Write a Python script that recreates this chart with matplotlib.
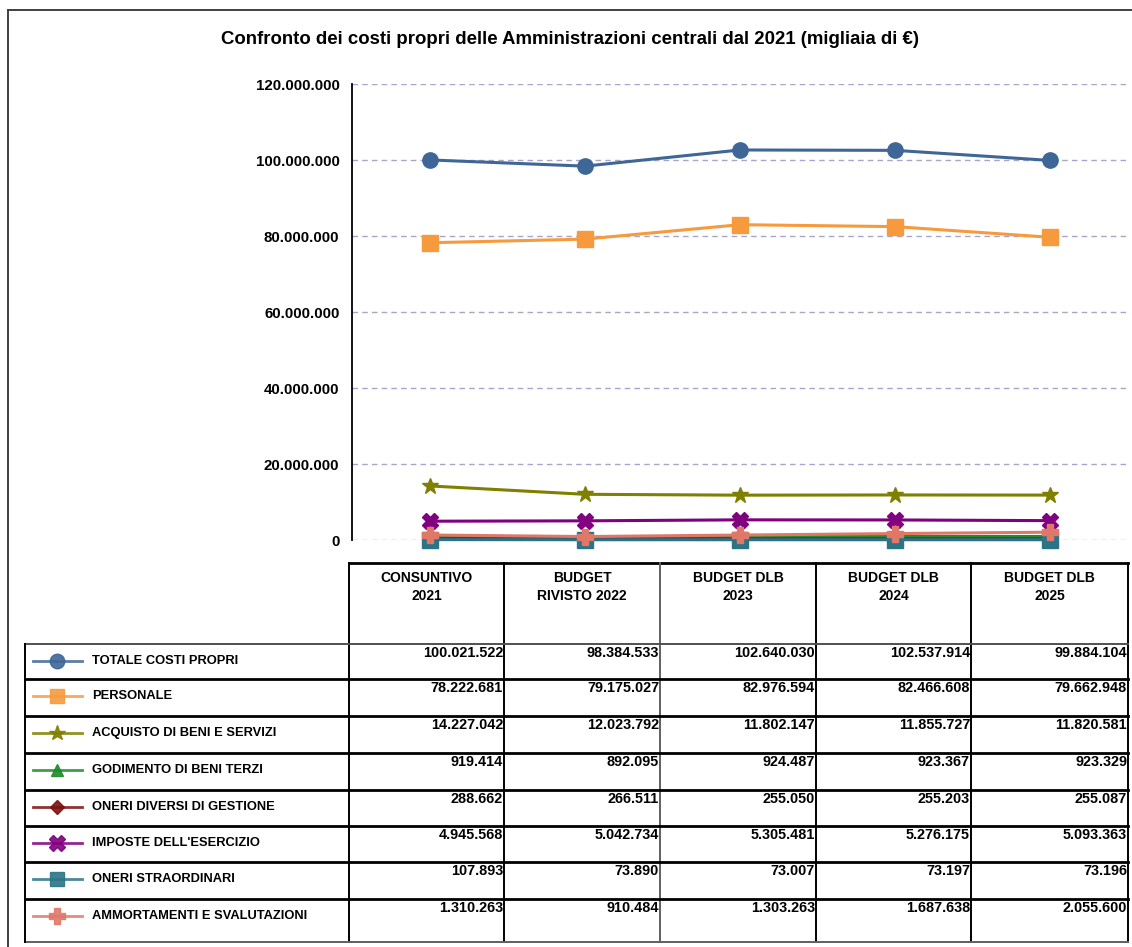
import matplotlib
matplotlib.use("Agg")
import matplotlib.pyplot as plt
from matplotlib.lines import Line2D
from matplotlib.ticker import FuncFormatter

plt.rcParams['font.family'] = ['Liberation Sans', 'DejaVu Sans']
plt.rcParams['font.weight'] = 'bold'

# data (migliaia di euro)
columns = ['CONSUNTIVO\n2021', 'BUDGET\nRIVISTO 2022', 'BUDGET DLB\n2023', 'BUDGET DLB\n2024', 'BUDGET DLB\n2025']
series_names = ['TOTALE COSTI PROPRI', 'PERSONALE', 'ACQUISTO DI BENI E SERVIZI', 'GODIMENTO DI BENI TERZI',
                'ONERI DIVERSI DI GESTIONE', "IMPOSTE DELL'ESERCIZIO", 'ONERI STRAORDINARI',
                'AMMORTAMENTI E SVALUTAZIONI']
totale = [100021522, 98384533, 102640030, 102537914, 99884104]
personale = [78222681, 79175027, 82976594, 82466608, 79662948]
acquisto = [14227042, 12023792, 11802147, 11855727, 11820581]
godimento = [919414, 892095, 924487, 923367, 923329]
oneri_diversi = [288662, 266511, 255050, 255203, 255087]
imposte = [4945568, 5042734, 5305481, 5276175, 5093363]
oneri_straord = [107893, 73890, 73007, 73197, 73196]
ammortamenti = [1310263, 910484, 1303263, 1687638, 2055600]
all_series = [totale, personale, acquisto, godimento, oneri_diversi, imposte, oneri_straord, ammortamenti]

colors = ['#3E6697', '#F79A3E', '#7F7F00', '#1F8B2A', '#7A1010', '#800080', '#2A7488', '#E07868']
markers = ['o', 's', '*', '^', 'D', 'X', 's', 'P']
msizes = [11, 11, 12, 9, 8, 12, 11, 12]

W, H = 1132, 947
def fx(px):
    return px / W
def fy(py):
    return 1 - py / H

fig = plt.figure(figsize=(W / 100, H / 100), dpi=100)

# chart
ax = fig.add_axes([fx(352), fy(540), fx(1128) - fx(352), fy(84) - fy(540)])
x = list(range(len(columns)))
for s, c, m, ms in zip(all_series, colors, markers, msizes):
    ax.plot(x, s, color=c, marker=m, markersize=ms, linewidth=2.2, clip_on=False)
ax.set_xlim(-0.5, 4.5)
ax.set_ylim(0, 120000000)
ax.set_yticks(range(0, 120000001, 20000000))
ax.yaxis.set_major_formatter(FuncFormatter(lambda v, p: f'{int(v):,}'.replace(',', '.')))
ax.yaxis.grid(True, linestyle=(0, (4, 3)), color='#A8A5CA', linewidth=1)
ax.set_axisbelow(True)
ax.set_xticks([])
ax.tick_params(axis='y', length=0, pad=9, labelsize=10.8)
for lab in ax.get_yticklabels():
    lab.set_fontweight('bold')
for sp in ['top', 'right', 'bottom']:
    ax.spines[sp].set_visible(False)
ax.spines['left'].set_linewidth(1.3)

fig.text(fx(570), fy(40), 'Confronto dei costi propri delle Amministrazioni centrali dal 2021 (migliaia di €)',
         ha='center', va='center', fontsize=13.4, fontweight='bold')

# outer frame
def hline(y, x0, x1, color='black', lw=1.6):
    fig.add_artist(Line2D([fx(x0), fx(x1)], [fy(y), fy(y)], color=color, linewidth=lw))
def vline(xp, y0, y1, color='black', lw=1.6):
    fig.add_artist(Line2D([fx(xp), fx(xp)], [fy(y0), fy(y1)], color=color, linewidth=lw))

hline(10, 8, W, color='#404040', lw=1.4)
vline(8, 10, H, color='#404040', lw=1.4)

# table
col_edges = [349, 504, 660, 816, 971, 1128]
row_edges = [644, 679, 716, 753, 790, 826, 862, 899, 942]

hline(563, 349, 1128, lw=2)
for xe in col_edges:
    vline(xe, 563, 942, color='#606060' if xe == 660 else 'black', lw=1.4)
hline(644, 25, 1128, color='#505050', lw=1.4)
for ye in row_edges[1:-1]:
    hline(ye, 25, 1128, lw=2)
hline(942, 25, 1128, color='#606060', lw=1.4)
vline(25, 644, 942, lw=1.4)

for i, col in enumerate(columns):
    cx = (col_edges[i] + col_edges[i + 1]) / 2
    fig.text(fx(cx), fy(571), col, ha='center', va='top', fontsize=10, fontweight='bold', linespacing=1.35)

for r, (name, s, c, m, ms) in enumerate(zip(series_names, all_series, colors, markers, msizes)):
    top = row_edges[r]
    cy = top + 17
    fig.add_artist(Line2D([fx(33), fx(82)], [fy(cy), fy(cy)], color=c, linewidth=2, alpha=0.85))
    fig.add_artist(Line2D([fx(57)], [fy(cy)], color=c, marker=m, markersize=ms * 0.95, alpha=0.9))
    fig.text(fx(92), fy(cy), name, ha='left', va='center', fontsize=9.3, fontweight='bold')
    for i, v in enumerate(s):
        fig.text(fx(col_edges[i + 1] - 1), fy(top + 9), f'{v:,}'.replace(',', '.'),
                 ha='right', va='center', fontsize=10.4, fontweight='bold')

fig.savefig('out.png', dpi=100)
